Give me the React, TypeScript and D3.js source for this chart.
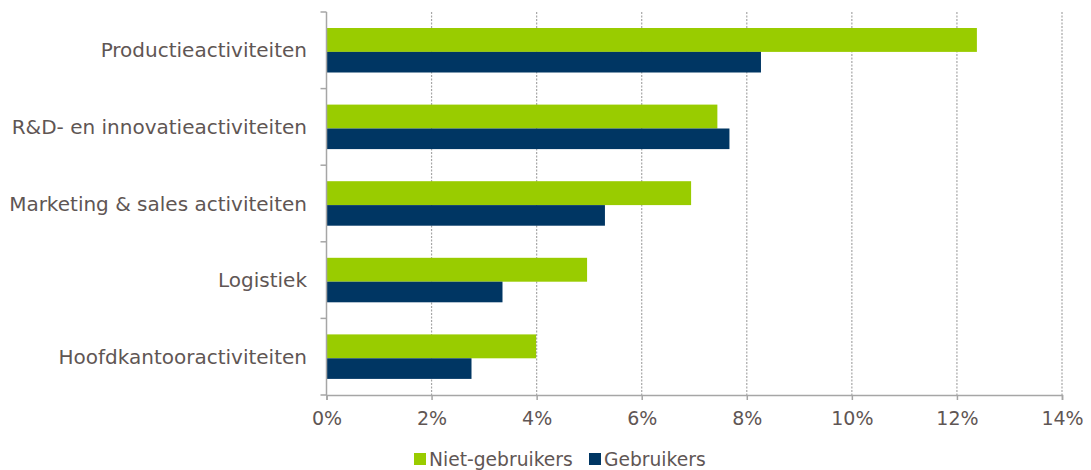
import { useEffect, useRef } from 'react'
import * as d3 from 'd3'

const categories = [
  'Productieactiviteiten',
  'R&D- en innovatieactiviteiten',
  'Marketing & sales activiteiten',
  'Logistiek',
  'Hoofdkantooractiviteiten',
]
const nietGebruikers = [12.38, 7.44, 6.94, 4.96, 3.99]
const gebruikers = [8.27, 7.67, 5.3, 3.35, 2.76]
const xTicks = [0, 2, 4, 6, 8, 10, 12, 14]

const series = [
  { name: 'Niet-gebruikers', values: nietGebruikers, color: '#99cc00' },
  { name: 'Gebruikers', values: gebruikers, color: '#003663' },
]

const textColor = '#5f5654'
const font = '"DejaVu Sans", Verdana, sans-serif'

export default function App() {
  const ref = useRef<SVGSVGElement>(null)

  useEffect(() => {
    const svg = d3.select(ref.current)
    svg.selectAll('*').remove()

    const left = 326.5
    const right = 1062
    const top = 12
    const bottom = 395

    const x = d3.scaleLinear().domain([0, 14]).range([left, right])
    const y = d3.scaleBand().domain(categories).range([top, bottom])
    // green bar slightly taller than the navy one, as in the original
    const barOffsets = [-22.3, 1.6]
    const barHeights = [23.9, 20.6]

    // dotted grid
    svg.append('g')
      .selectAll('line')
      .data(xTicks.slice(1))
      .join('line')
      .attr('x1', d => x(d))
      .attr('x2', d => x(d))
      .attr('y1', top)
      .attr('y2', bottom)
      .attr('stroke', '#a6a6a6')
      .attr('stroke-width', 1.2)
      .attr('stroke-dasharray', '2,1.5')

    // bars
    series.forEach((s, si) => {
      svg.append('g')
        .selectAll('rect')
        .data(categories)
        .join('rect')
        .attr('x', left)
        .attr('y', (c) => y(c)! + y.bandwidth() / 2 + barOffsets[si])
        .attr('width', (c, i) => x(s.values[i]) - left)
        .attr('height', barHeights[si])
        .attr('fill', s.color)
    })

    // x axis
    const xAxis = svg.append('g')
      .attr('transform', `translate(0,${bottom})`)
      .call(d3.axisBottom(x).tickValues(xTicks).tickSize(5).tickPadding(12).tickFormat(d => `${d}%`))
    xAxis.select('.domain').attr('stroke', '#a6a6a6').attr('stroke-width', 1.5)
    xAxis.selectAll('.tick line').attr('stroke', '#a6a6a6').attr('stroke-width', 1.5)
    xAxis.selectAll('text')
      .style('fill', textColor)
      .style('font-size', '19px')
      .style('font-family', font)

    // y axis
    const bounds = d3.range(categories.length + 1).map(i => top + i * y.step())
    svg.append('line')
      .attr('x1', left).attr('x2', left)
      .attr('y1', top).attr('y2', bottom)
      .attr('stroke', '#a6a6a6').attr('stroke-width', 1.5)
    svg.append('g')
      .selectAll('line')
      .data(bounds)
      .join('line')
      .attr('x1', left - 6).attr('x2', left)
      .attr('y1', d => d).attr('y2', d => d)
      .attr('stroke', '#a6a6a6').attr('stroke-width', 1.5)

    svg.append('g')
      .selectAll('text')
      .data(categories)
      .join('text')
      .attr('x', 307)
      .attr('y', c => y(c)! + y.bandwidth() / 2)
      .attr('dy', '0.35em')
      .attr('text-anchor', 'end')
      .style('fill', textColor)
      .style('font-size', '20px')
      .style('font-family', font)
      .text(c => c)

    // legend
    const legendX = [414, 589]
    series.forEach((s, i) => {
      const g = svg.append('g').attr('transform', `translate(${legendX[i]},453)`)
      g.append('rect').attr('width', 12).attr('height', 12).attr('fill', s.color)
      g.append('text')
        .attr('x', 15)
        .attr('y', 6)
        .attr('dy', '0.35em')
        .style('fill', textColor)
        .style('font-size', '18.7px')
        .style('font-family', font)
        .text(s.name)
    })
  }, [])

  return (
    <svg ref={ref} width={1091} height={470} style={{ display: 'block', position: 'absolute', left: 0, top: 0 }} />
  )
}
